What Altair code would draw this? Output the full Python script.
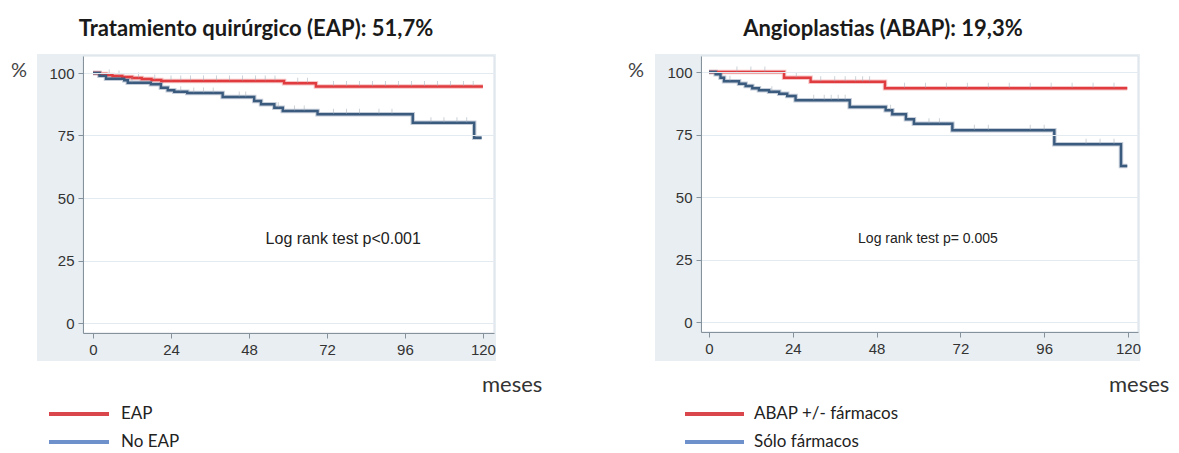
import altair as alt
import pandas as pd

# ---------------- data ----------------
month_ticks = [0, 24, 48, 72, 96, 120]
pct_ticks = [0, 25, 50, 75, 100]
x_unit = "meses"
y_unit = "%"

left_title = "Tratamiento quirúrgico (EAP): 51,7%"
left_names = ["EAP", "No EAP"]
left_logrank = "Log rank test p<0.001"

eap_t = [0, 2, 4, 6, 9, 12, 15, 18, 21, 58.8, 68.6, 120]
eap_v = [100, 99.6, 99.2, 98.8, 98.4, 98.0, 97.6, 97.2, 96.8, 95.9, 94.6, 94.6]
eap_cens = [5, 8, 14, 19, 24, 27, 30, 34, 38, 42, 46, 50, 53, 56, 63, 66, 74, 78, 82, 86, 90, 94, 98, 102, 106, 110, 114, 117]

noeap_t = [0, 2, 4, 9.6, 10.7, 17.8, 20.9, 23, 25, 29, 39.9, 49.6, 51.7, 55.8, 58.4, 69.1, 98.4, 117.3, 119.6]
noeap_v = [100, 98.9, 97.7, 97.1, 96.1, 95.5, 94.1, 93.1, 92.5, 92.0, 90.4, 88.8, 87.5, 86.1, 84.8, 83.5, 80.1, 74.1, 74.1]
noeap_cens = [12, 27, 31, 34, 37, 45, 47, 57, 62, 65, 74, 78, 82, 88, 92, 104, 108, 112, 115]

right_title = "Angioplastias (ABAP): 19,3%"
right_names = ["ABAP +/- fármacos", "Sólo fármacos"]
right_logrank = "Log rank test p= 0.005"

abap_t = [0, 21.5, 29.1, 50.4, 119.8]
abap_v = [100, 97.7, 96.1, 93.5, 93.5]
abap_cens = [8, 12, 16, 25, 32, 36, 39, 42, 44, 46, 56, 62, 68, 74, 80, 86, 92, 98, 104, 110, 116]

solo_t = [0, 1.9, 3.3, 4.3, 8.6, 10.5, 12.4, 14.3, 17.2, 20.1, 22.4, 24.8, 40.3, 50.6, 52.5, 56.4, 58.7, 69.7, 98.9, 118, 119.8]
solo_v = [100, 99.1, 97.7, 96.3, 95.3, 94.4, 93.5, 92.7, 92.1, 91.3, 90.4, 88.7, 86.0, 84.7, 83.1, 81.1, 79.3, 76.7, 71.1, 62.4, 62.4]
solo_cens = [6, 18, 30, 33, 35, 37, 39, 52, 63, 66, 76, 80, 92, 96, 108, 112, 116]

curve_colors = ["#e03b3e", "#3a5a7e"]
legend_colors = ["#d9474c", "#6f91cb"]

SHADE = "#e8eef2"
AXIS_COL = "#85919b"
LABEL_COL = "#333333"


def step_at(ts, vs, m):
    val = vs[0]
    for t, v in zip(ts, vs):
        if t <= m:
            val = v
    return val


def panel(title, names, curves, cens, logrank, lr_pos, lr_size, width, height,
          xdom, ydom, title_x, pct_x, meses_x, leg_x0, leg_x1, leg_lx):
    rows, crow = [], []
    for name, (ts, vs), cs in zip(names, curves, cens):
        for t, v in zip(ts, vs):
            rows.append({"serie": name, "mes": t, "pct": v})
        for c in cs:
            crow.append({"serie": name, "mes": c, "pct": step_at(ts, vs, c)})
    df = pd.DataFrame(rows)
    dc = pd.DataFrame(crow)
    one = pd.DataFrame({"k": [0]})

    xenc = alt.X("mes:Q", scale=alt.Scale(domain=xdom, nice=False, zero=False),
                 axis=alt.Axis(values=month_ticks, title=None, grid=False, zindex=1,
                               domainColor=AXIS_COL, tickColor=AXIS_COL, tickSize=5,
                               labelFont="Liberation Sans", labelFontSize=15,
                               labelColor=LABEL_COL, labelPadding=4, labelFlush=False))
    yenc = alt.Y("pct:Q", scale=alt.Scale(domain=ydom, nice=False, zero=False),
                 axis=alt.Axis(values=pct_ticks, title=None, grid=True, gridColor="#e4ebf0",
                               zindex=1, domainColor=AXIS_COL, tickColor=AXIS_COL, tickSize=5,
                               labelFont="Liberation Sans", labelFontSize=15,
                               labelColor=LABEL_COL, labelPadding=4, labelFlush=False))
    cscale = alt.Scale(domain=names, range=curve_colors)

    shade = alt.Chart(one).mark_rect(color=SHADE).encode(
        x=alt.value(-46), x2=alt.value(width + 2), y=alt.value(-2), y2=alt.value(305))
    white = alt.Chart(one).mark_rect(fill="white", stroke="#d8e1e8", strokeWidth=1).encode(
        x=alt.value(0), x2=alt.value(width), y=alt.value(0), y2=alt.value(height))

    halo = alt.Chart(df).mark_line(interpolate="step-after", strokeWidth=4.5, opacity=0.3).encode(
        x=xenc, y=yenc, color=alt.Color("serie:N", scale=cscale, legend=None))
    line = alt.Chart(df).mark_line(interpolate="step-after", strokeWidth=2.4).encode(
        x=xenc, y=yenc, color=alt.Color("serie:N", scale=cscale, legend=None))
    ticks = alt.Chart(dc).mark_tick(orient="vertical", size=5, thickness=1,
                                    color="#a3adb6", opacity=0.55, yOffset=-3).encode(x=xenc, y=yenc)

    lr = alt.Chart(pd.DataFrame({"mes": [lr_pos[0]], "pct": [lr_pos[1]], "t": [logrank]})).mark_text(
        font="Liberation Sans", fontSize=lr_size, color="#222222").encode(x=xenc, y=yenc, text="t:N")

    ttl = alt.Chart(one).mark_text(font="Lato", fontSize=22, fontWeight="bold",
                                   color="#1a1a1a").encode(
        x=alt.value(title_x), y=alt.value(-27), text=alt.value(title))
    pct = alt.Chart(one).mark_text(font="Lato", fontSize=20, color="#444444").encode(
        x=alt.value(pct_x), y=alt.value(15), text=alt.value(y_unit))
    mes = alt.Chart(one).mark_text(font="Lato", fontSize=22, color="#333333", align="left").encode(
        x=alt.value(meses_x), y=alt.value(329), text=alt.value(x_unit))

    legend_layers = []
    for i, (name, col) in enumerate(zip(names, legend_colors)):
        yy = 358 + 28 * i
        legend_layers.append(alt.Chart(one).mark_rule(color=col, strokeWidth=4).encode(
            x=alt.value(leg_x0), x2=alt.value(leg_x1), y=alt.value(yy)))
        legend_layers.append(alt.Chart(one).mark_text(font="Lato", fontSize=17, color="#222222",
                                                      align="left").encode(
            x=alt.value(leg_lx), y=alt.value(yy), text=alt.value(name)))

    return alt.layer(shade, white, halo, line, ticks, lr, ttl, pct, mes, *legend_layers).properties(
        width=width, height=height)


left = panel(left_title, left_names, [(eap_t, eap_v), (noeap_t, noeap_v)], [eap_cens, noeap_cens],
             left_logrank, (77, 33.6), 16, 411, 277, [-3.08, 123.4], [-4, 106.8],
             173, -64, 399, -34, 26, 38)
right = panel(right_title, right_names, [(abap_t, abap_v), (solo_t, solo_v)], [abap_cens, solo_cens],
              right_logrank, (62.7, 33.2), 14, 437, 276, [-2.29, 122.87], [-4, 106.4],
              182, -65, 408, -16, 43, 53)

chart = alt.hconcat(left, right, spacing=84).resolve_scale(
    x="independent", y="independent", color="independent"
).properties(
    padding={"left": 2, "top": 9, "right": 0, "bottom": 0}
).configure_view(stroke="transparent")

chart.save("out.html", embed_options={"renderer": "svg", "actions": False})
